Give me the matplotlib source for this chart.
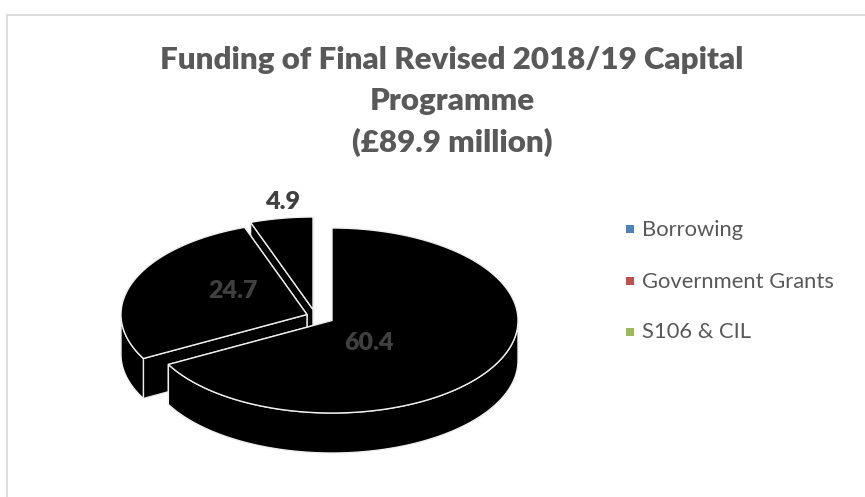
import numpy as np
import matplotlib
matplotlib.use("Agg")
import matplotlib.pyplot as plt
from matplotlib.patches import Polygon, Rectangle

plt.rcParams['font.family'] = ['Lato', 'DejaVu Sans']

#----- Datos -----

sources = ["Borrowing", "Government Grants", "S106 & CIL"]
values = [60.4, 24.7, 4.9]
legend_colors = ["#4F81BD", "#C0504D", "#9BBB59"]
title_lines = ["Funding of Final Revised 2018/19 Capital", "Programme", "(£89.9 million)"]

#----- Geometria del pastel 3D (en pixeles) -----

center_x, center_y = 332, 320.5
radius_x, radius_y = 186, 92.5
depth = 40
explode = [(0, 0), (-25, -6), (-19, -11)]
label_pos = [(369, 343), (233, 291), (283, 202)]
label_colors = ["#404040", "#404040", "#404040"]
edge = "#efefef"

fig = plt.figure(figsize=(8.65, 4.97), dpi=100)
ax = fig.add_axes([0, 0, 1, 1])
ax.set_xlim(0, 865)
ax.set_ylim(497, 0)
ax.axis("off")

# marco del grafico, solo arriba e izquierda
ax.plot([6.5, 6.5], [497, 14.5], color="#d9d9d9", lw=1.3)
ax.plot([6.5, 865], [14.5, 14.5], color="#d9d9d9", lw=1.3)


def arc(cx, cy, start, end):
    # angulos en grados, horario desde las 12
    t = np.radians(np.linspace(start, end, 200))
    return np.column_stack((cx + radius_x * np.sin(t), cy - radius_y * np.cos(t)))


def draw_slice(start, end, dx, dy):
    cx, cy = center_x + dx, center_y + dy
    down = np.array([0, depth])
    apex = np.array([cx, cy])

    # caras de los cortes, primero la que queda detras
    for a in (end, start):
        rim = arc(cx, cy, a, a)[0]
        quad = [apex, rim, rim + down, apex + down]
        ax.add_patch(Polygon(quad, closed=True, fc="black", ec=edge, lw=1, zorder=z[0]))
        z[0] += 1

    # pared exterior, solo la parte que mira al frente
    lo, hi = max(start, 90), min(end, 270)
    if lo < hi:
        rim = arc(cx, cy, lo, hi)
        wall = np.vstack((rim, (rim + down)[::-1]))
        ax.add_patch(Polygon(wall, closed=True, fc="black", ec=edge, lw=1, zorder=z[0]))
        z[0] += 1

    # cara superior
    top = np.vstack((apex, arc(cx, cy, start, end)))
    ax.add_patch(Polygon(top, closed=True, fc="black", ec=edge, lw=1, zorder=z[0]))
    z[0] += 1


# angulos de cada porcion a partir de los valores
total = sum(values)
ends = np.cumsum(values) / total * 360
starts = np.concatenate(([0], ends[:-1]))

z = [2]
# se dibuja de atras hacia adelante
for i in [2, 1, 0]:
    draw_slice(starts[i], ends[i], explode[i][0], explode[i][1])

for v, (x, y), c in zip(values, label_pos, label_colors):
    ax.text(x, y, f"{v}", ha="center", va="center", fontsize=18, fontweight="heavy",
            color=c, zorder=50)

#----- Titulo -----

for line, y in zip(title_lines, [60, 101, 142]):
    ax.text(452, y, line, ha="center", va="center", fontsize=22.5, fontweight="heavy",
            color="#595959", zorder=50)

#----- Leyenda -----

for name, color, y in zip(sources, legend_colors, [229.5, 281.5, 332.5]):
    ax.add_patch(Rectangle((625.5, y - 5), 8.5, 8.5, fc=color, ec="none", zorder=50))
    ax.text(642, y, name, ha="left", va="center", fontsize=15.8, color="#595959", zorder=50)

fig.savefig("out.png", dpi=100)
